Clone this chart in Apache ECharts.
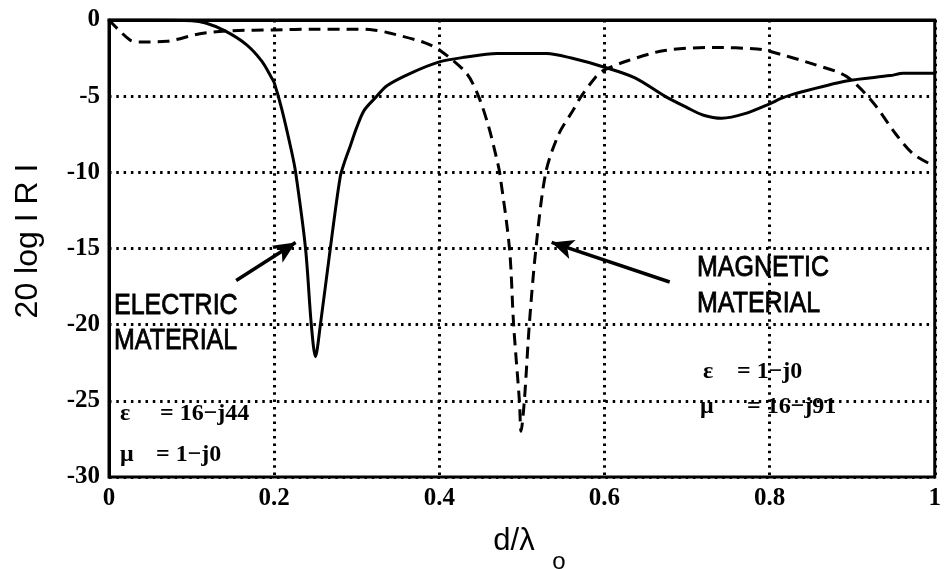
<!DOCTYPE html>
<html>
<head>
<meta charset="utf-8">
<script src="https://cdn.jsdelivr.net/npm/echarts@6/dist/echarts.min.js"></script>
<style>
html,body{margin:0;padding:0;background:#fff;}
#chart{width:944px;height:569px;}
</style>
</head>
<body>
<div id="chart"></div>
<script>
// Electric material (solid)
const electricX = [0, 0.05, 0.1, 0.117, 0.14, 0.166, 0.185, 0.197, 0.2, 0.209, 0.221, 0.226, 0.238, 0.245, 0.25, 0.256, 0.268, 0.28, 0.286, 0.292, 0.3, 0.309, 0.323, 0.337, 0.365, 0.4, 0.43, 0.47, 0.53, 0.56, 0.6, 0.637, 0.673, 0.7, 0.72, 0.742, 0.77, 0.8, 0.814, 0.83, 0.893, 0.946, 0.962, 1.0];
const electricY = [0, 0, -0.05, -0.2, -0.7, -1.6, -2.7, -3.8, -4.1, -5.8, -8.6, -10, -15, -20, -22.1, -20, -15, -10.3, -9.2, -8.3, -7.05, -5.93, -5.08, -4.3, -3.5, -2.75, -2.45, -2.2, -2.2, -2.5, -3.1, -3.8, -5.0, -5.75, -6.25, -6.45, -6.15, -5.5, -5.15, -4.85, -4.0, -3.65, -3.5, -3.5];
// Magnetic material (dashed)
const magneticX = [0, 0.025, 0.037, 0.07, 0.11, 0.15, 0.2, 0.25, 0.3, 0.32, 0.337, 0.382, 0.401, 0.433, 0.448, 0.46, 0.469, 0.473, 0.485, 0.49, 0.497, 0.499, 0.503, 0.509, 0.517, 0.529, 0.545, 0.562, 0.571, 0.589, 0.599, 0.629, 0.673, 0.733, 0.785, 0.8, 0.853, 0.893, 0.925, 0.953, 0.974, 1.0];
const magneticY = [0, -1.3, -1.45, -1.4, -0.9, -0.7, -0.65, -0.6, -0.6, -0.65, -0.82, -1.48, -2.0, -3.5, -5.08, -7.05, -9.0, -10, -15, -20, -25, -27, -25, -20, -15, -10, -7.45, -5.93, -5.08, -3.77, -3.31, -2.66, -2.0, -1.8, -1.9, -2.05, -2.9, -3.7, -5.4, -7.5, -8.8, -9.6];
// Axes
const xTicks = [0, 0.2, 0.4, 0.6, 0.8, 1];
const yTicks = [0, -5, -10, -15, -20, -25, -30];
// Annotation arrows: [tail, tip] in data units
const electricArrow = [[0.154, -17.1], [0.226, -14.6]];
const magneticArrow = [[0.679, -17.2], [0.536, -14.6]];

const pair = (xs, ys) => xs.map((x, i) => [x, ys[i]]);
const serif = '"Liberation Serif", "Times New Roman", serif';
const sans = '"Liberation Sans", Arial, sans-serif';

const chart = echarts.init(document.getElementById('chart'), null, {renderer: 'canvas'});
const gridDash = {color: '#000', width: 3, type: [2.5, 4.8]};

function arrowLine(seg) {
  return [{coord: seg[0], symbol: 'none'}, {coord: seg[1], symbol: 'arrow', symbolSize: [15, 22]}];
}

function t(text, x, y, font, align, sy) {
  return {type: 'text', x: x, y: y, silent: true, scaleY: sy || 1,
    style: {text: text, font: font, fill: '#000', align: align || 'left', verticalAlign: 'middle',
      stroke: sy ? '#000' : null, lineWidth: sy ? 0.7 : 0}};
}

chart.setOption({
  animation: false,
  backgroundColor: '#fff',
  grid: {left: 109, right: 2, top: 20, bottom: 92, show: true, borderColor: '#000', borderWidth: 3},
  xAxis: {
    type: 'value', min: 0, max: 1, interval: 0.2,
    axisLine: {show: true, lineStyle: {color: '#000', width: 3}},
    axisTick: {show: false},
    axisLabel: {color: '#000', fontFamily: serif, fontSize: 25, fontWeight: 'bold', margin: 9,
      customValues: xTicks, formatter: v => String(v)},
    splitLine: {show: true, lineStyle: gridDash}
  },
  yAxis: {
    type: 'value', min: -30, max: 0, interval: 5,
    axisLine: {show: true, lineStyle: {color: '#000', width: 3}},
    axisTick: {show: false},
    axisLabel: {color: '#000', fontFamily: serif, fontSize: 25, fontWeight: 'bold', margin: 9,
      customValues: yTicks, formatter: v => String(v)},
    splitLine: {show: true, lineStyle: gridDash}
  },
  series: [
    {
      type: 'line', data: pair(electricX, electricY), showSymbol: false, smooth: 0.3,
      lineStyle: {color: '#000', width: 3, type: 'solid'},
      markLine: {silent: true, animation: false, label: {show: false},
        lineStyle: {color: '#000', width: 3.5, type: 'solid'},
        data: [arrowLine(electricArrow)]}
    },
    {
      type: 'line', data: pair(magneticX, magneticY), showSymbol: false, smooth: 0.3,
      lineStyle: {color: '#000', width: 3, type: [12, 7]},
      markLine: {silent: true, animation: false, label: {show: false},
        lineStyle: {color: '#000', width: 3.5, type: 'solid'},
        data: [arrowLine(magneticArrow)]}
    }
  ],
  graphic: [
    {type: 'text', x: 28, y: 241, rotation: Math.PI / 2, silent: true,
      style: {text: '20 log I R I', font: '32px ' + sans, fill: '#000', align: 'center', verticalAlign: 'middle'}},
    t('d/λ', 514, 541, '31px ' + sans, 'center'),
    t('o', 559, 562, '24px ' + sans, 'center'),
    t('ELECTRIC', 114, 306, '25px ' + sans, 'left', 1.2),
    t('MATERIAL', 114, 341, '25px ' + sans, 'left', 1.2),
    t('MAGNETIC', 697, 268, '25px ' + sans, 'left', 1.2),
    t('MATERIAL', 697, 304, '25px ' + sans, 'left', 1.2),
    t('ε', 120, 414, 'bold 24px ' + serif),
    t('= 16−j44', 160, 414, 'bold 24px ' + serif),
    t('μ', 120, 455, 'bold 24px ' + serif),
    t('= 1−j0', 156, 455, 'bold 24px ' + serif),
    t('ε', 703, 372, 'bold 24px ' + serif),
    t('= 1−j0', 737, 372, 'bold 24px ' + serif),
    t('μ', 700, 407, 'bold 24px ' + serif),
    t('= 16−j91', 747, 407, 'bold 24px ' + serif)
  ]
});
</script>
</body>
</html>
